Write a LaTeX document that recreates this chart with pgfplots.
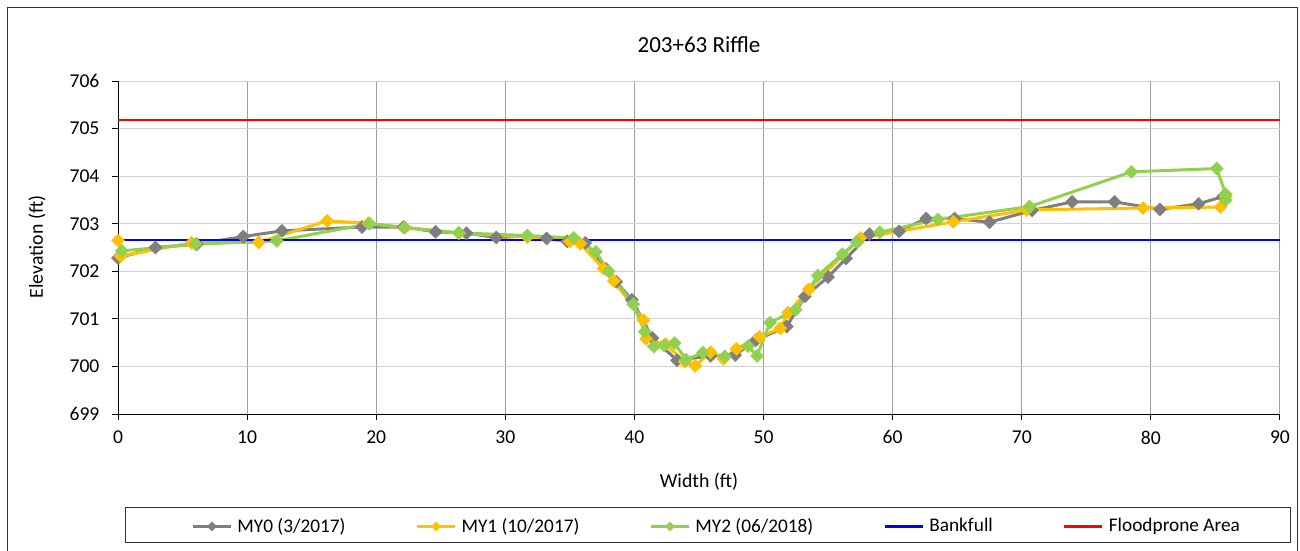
\documentclass[border=0pt]{standalone}
\usepackage{fontspec}
\setmainfont{Carlito}
\usepackage{pgfplots}
\pgfplotsset{compat=1.18}
\definecolor{c0}{HTML}{7F7F7F}
\definecolor{c1}{HTML}{FFC000}
\definecolor{c2}{HTML}{92D050}
\definecolor{bf}{HTML}{0000FF}
\definecolor{fp}{HTML}{FF0000}
\begin{document}
\fontsize{19.3}{23}\selectfont
\begin{tikzpicture}[x=1pt,y=1pt]
\useasboundingbox (0,0) rectangle (1300,550);
\draw[black!80, line width=1pt] (7,-20) rectangle (1297,542);
\begin{axis}[
  at={(118pt,136pt)}, anchor=south west, scale only axis,
  width=1162pt, height=333pt,
  xmin=0, xmax=90, ymin=699, ymax=706,
  xtick={0,10,...,90}, ytick={699,700,...,706},
  axis x line=bottom, axis y line=left,
  axis line style={-, black, line width=1pt},
  tick align=outside, major tick length=6pt,
  tick style={black, line width=1pt},
  grid=major,
  x grid style={black!38, line width=1pt},
  y grid style={black!18, line width=1pt},
  /pgf/number format/assume math mode=true,
  /pgf/number format/1000 sep={},
  ticklabel style={font=\fontsize{19.6}{23}\selectfont},
  yticklabel style={xshift=-6pt},
  xticklabel style={yshift=-4pt},
  legend columns=5,
  legend style={draw=none, fill=none, inner sep=0pt,
    at={(0.0630,-0.3375)}, anchor=west,
    font=\fontsize{19.3}{23}\selectfont,
    nodes={inner sep=0pt},
    /tikz/every odd column/.append style={column sep=5pt},
    /tikz/every even column/.append style={column sep=70pt}},
  legend image code/.code={\draw[line width=3pt, mark repeat=2,mark phase=2,mark size=3.2pt] plot coordinates {(0pt,0pt) (19pt,0pt) (38pt,0pt)};},
]
\addplot[c0, line width=3pt, mark=square*, mark size=4.6pt, mark options={rotate=45, line width=0.5pt}] coordinates {
(0,702.28) (2.9,702.50) (6.1,702.57) (9.7,702.73) (12.7,702.85) (18.9,702.93)
(22.1,702.93) (24.6,702.83) (27.0,702.80) (29.3,702.71) (31.7,702.74) (33.2,702.69)
(34.8,702.63) (36.2,702.60) (37.8,702.05) (38.6,701.78) (39.8,701.40) (41.4,700.60)
(43.3,700.13) (45.9,700.22) (47.8,700.24) (49.4,700.55) (51.8,700.84) (53.2,701.47)
(55.0,701.88) (56.4,702.27) (58.2,702.78) (60.5,702.84) (62.6,703.11) (64.8,703.11)
(67.5,703.03) (70.8,703.28) (73.9,703.46) (77.2,703.46) (80.7,703.30) (83.7,703.42)
(85.6,703.57)
};
\addlegendentry{MY0 (3/2017)}
\addplot[c1, line width=3pt, mark=square*, mark size=4.6pt, mark options={rotate=45, line width=0.5pt}] coordinates {
(0,702.65) (0.2,702.32) (5.7,702.60) (10.9,702.61) (16.2,703.06) (19.4,703.01)
(22.2,702.92) (26.4,702.80) (31.7,702.72) (35.0,702.63) (35.8,702.58) (37.6,702.06)
(38.4,701.80) (40.7,700.97) (40.9,700.58) (42.4,700.47) (43.9,700.10) (44.7,700.01)
(45.9,700.30) (46.9,700.16) (47.9,700.37) (49.7,700.62) (51.3,700.80) (51.9,701.13)
(53.5,701.62) (57.5,702.70) (64.7,703.04) (70.4,703.29) (79.4,703.33) (85.4,703.35)
(85.8,703.57)
};
\addlegendentry{MY1 (10/2017)}
\addplot[c2, line width=3pt, mark=square*, mark size=4.6pt, mark options={rotate=45, line width=0.5pt}] coordinates {
(0.3,702.43) (6.0,702.57) (12.3,702.64) (19.5,703.00) (22.2,702.92) (26.4,702.81)
(31.7,702.75) (35.3,702.70) (37.0,702.41) (38.0,702.00) (39.9,701.31) (40.8,700.73)
(41.5,700.42) (42.3,700.44) (43.1,700.49) (44.0,700.14) (45.3,700.29) (47.0,700.21)
(48.8,700.43) (49.5,700.22) (50.5,700.92) (52.5,701.19) (54.2,701.91) (56.1,702.36)
(57.2,702.62) (59.0,702.82) (63.5,703.09) (70.6,703.36) (78.5,704.09) (85.1,704.16)
(85.8,703.62) (85.8,703.50)
};
\addlegendentry{MY2 (06/2018)}
\addplot[bf, line width=2.5pt] coordinates {(0,702.66) (90,702.66)};
\addlegendentry{Bankfull}
\addplot[fp, line width=2pt] coordinates {(0,705.18) (90,705.18)};
\addlegendentry{Floodprone Area}
\end{axis}
\node[font=\fontsize{23}{27}\selectfont] at (699,505) {203+63 Riffle};
\node[rotate=90, font=\fontsize{19.8}{23}\selectfont] at (37,303) {Elevation (ft)};
\node[font=\fontsize{19.8}{23}\selectfont] at (699,68) {Width (ft)};
\draw[black!80, line width=1pt] (125,8) rectangle (1290,43);
\end{tikzpicture}
\end{document}
